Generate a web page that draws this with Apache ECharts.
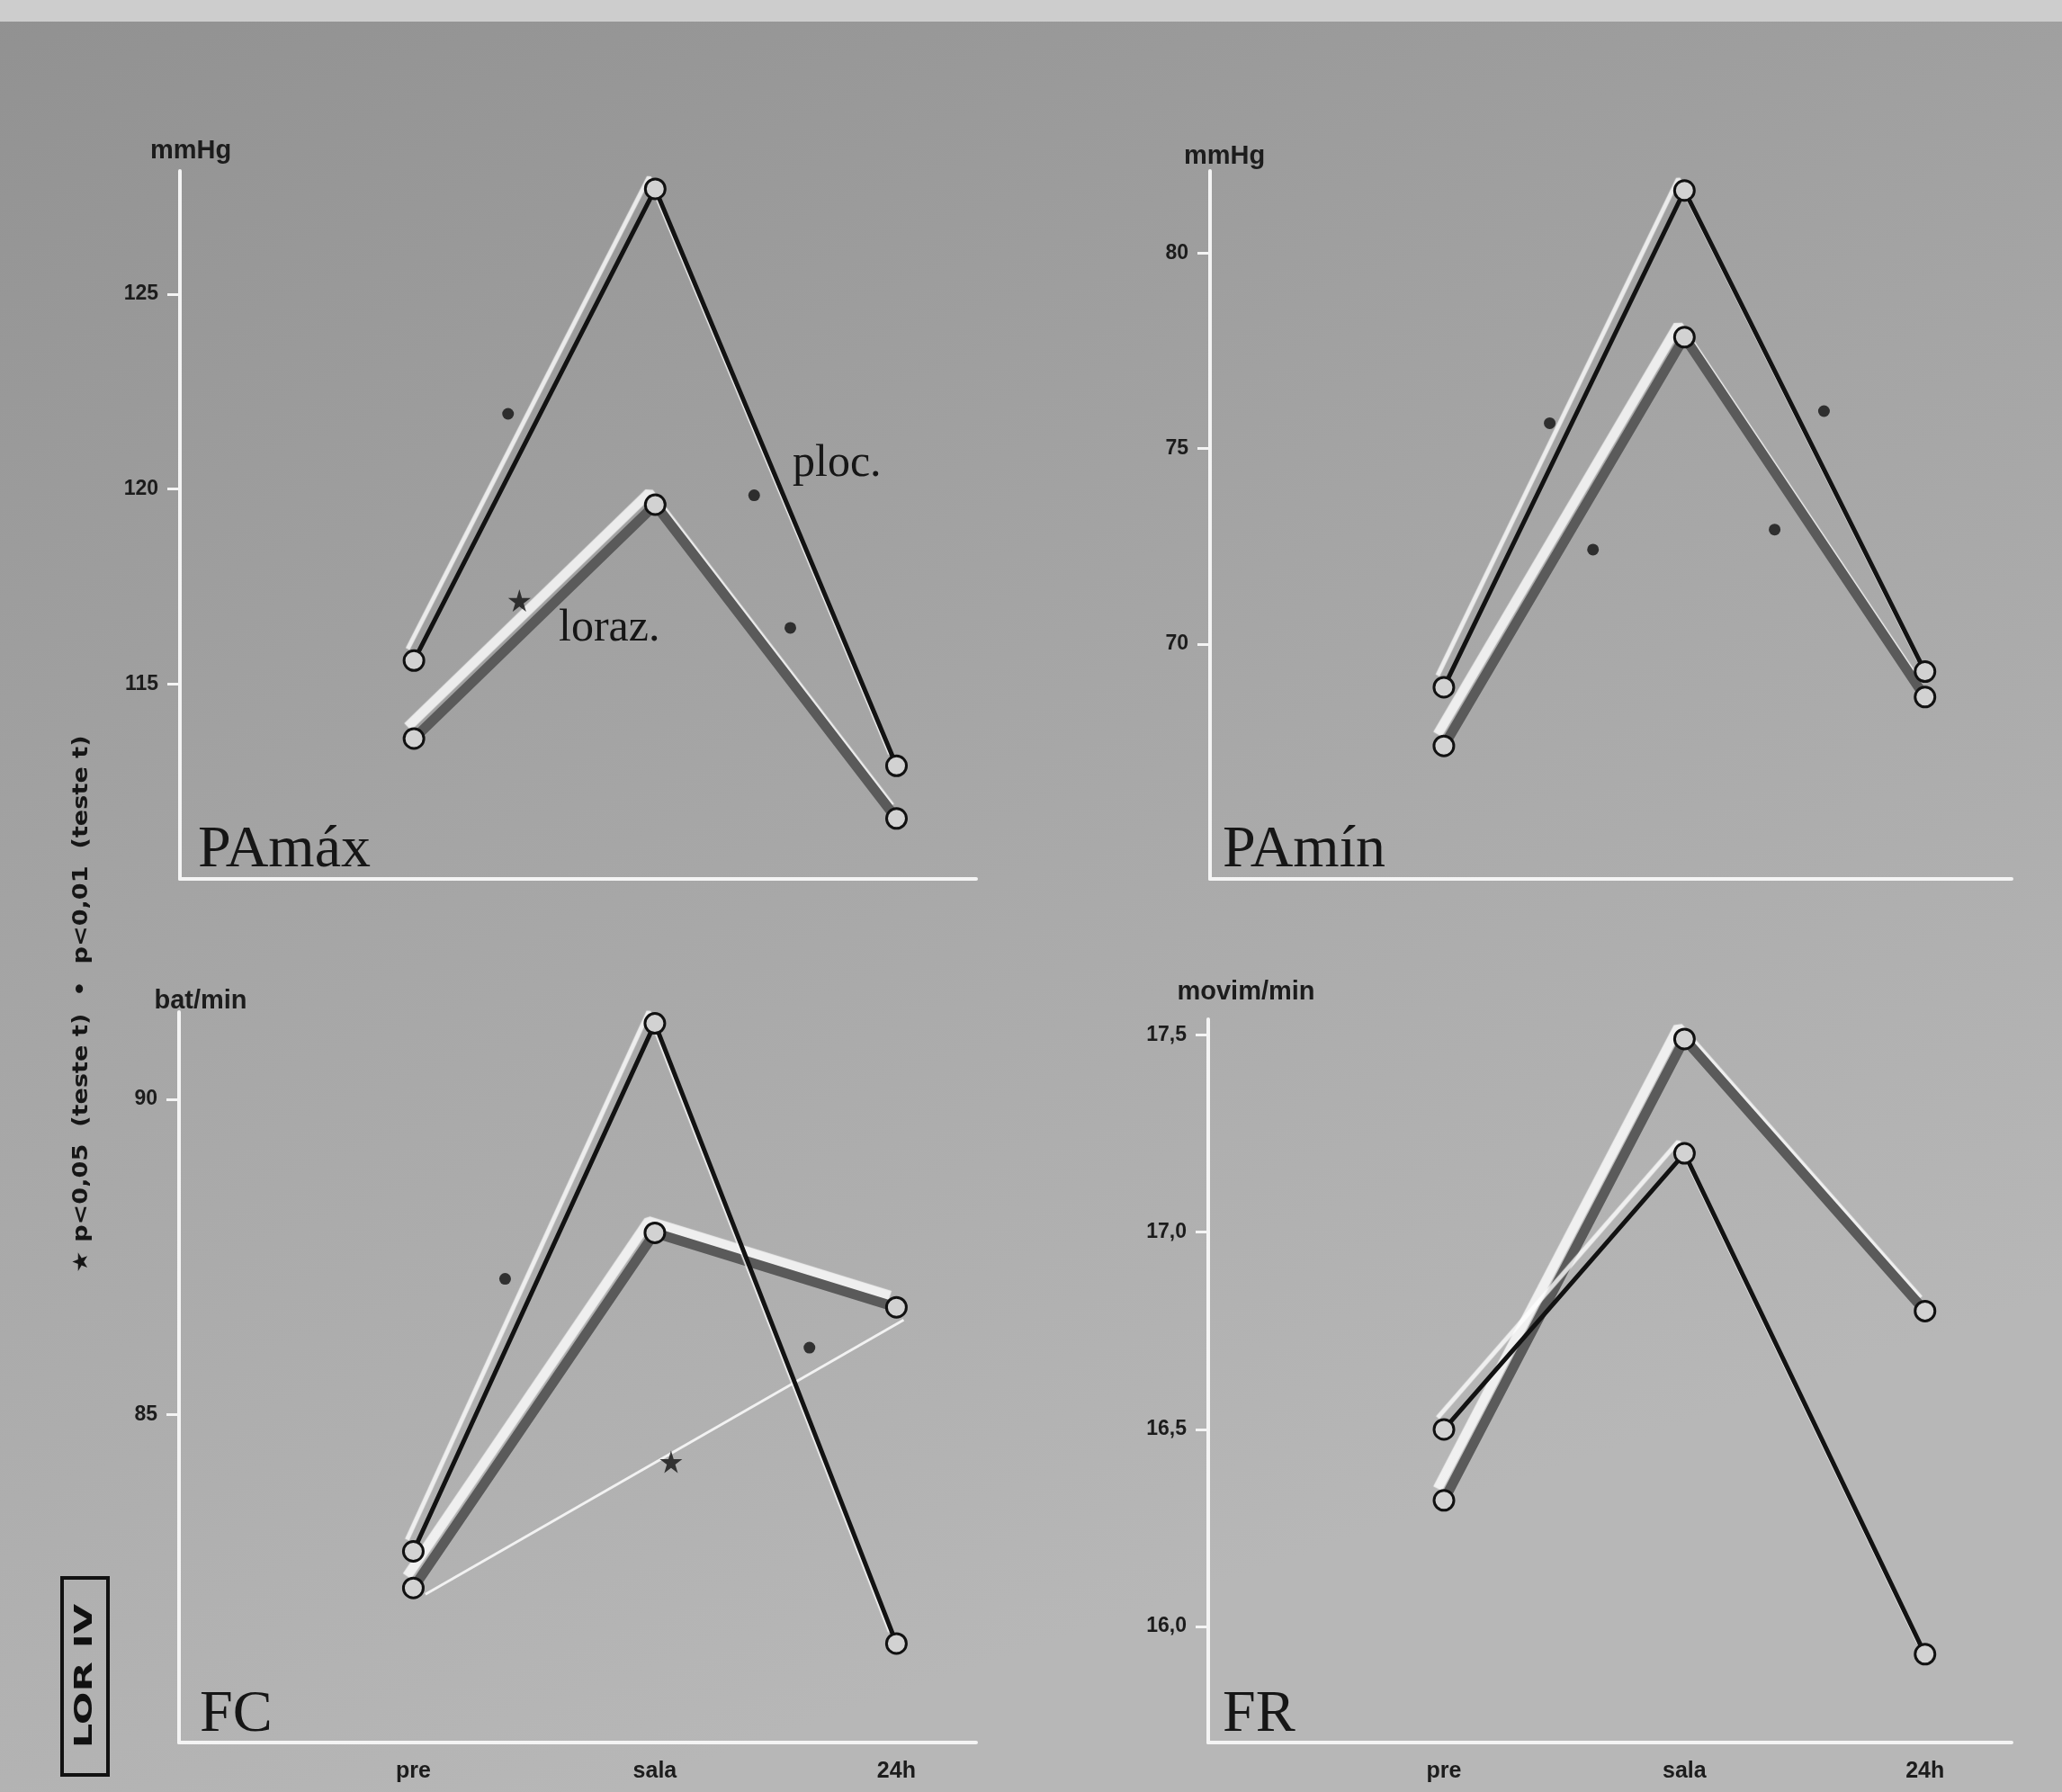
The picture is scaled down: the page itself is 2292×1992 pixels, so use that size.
<!DOCTYPE html>
<html>
<head>
<meta charset="utf-8">
<script src="https://cdn.jsdelivr.net/npm/echarts@6/dist/echarts.min.js"></script>
<style>
html,body{margin:0;padding:0;}
#chart{width:2292px;height:1992px;}
</style>
</head>
<body>
<div id="chart"></div>
<script>
// ---- data ----
const categories = ['pre', 'sala', '24h'];

const paMaxPlac  = [115.6, 127.7, 112.9];
const paMaxLoraz = [113.6, 119.6, 111.55];
const paMinPlac  = [68.9, 81.6, 69.3];
const paMinLoraz = [67.4, 77.85, 68.65];
const fcPlac     = [82.83, 91.2, 81.37];
const fcLoraz    = [82.25, 87.88, 86.7];
const frPlac     = [16.5, 17.2, 15.93];
const frLoraz    = [16.32, 17.49, 16.80];

const paMaxTicks = [115, 120, 125];
const paMinTicks = [70, 75, 80];
const fcTicks    = [85, 90];
const frTicks    = [16.0, 16.5, 17.0, 17.5];

// significance markers (x: position between categories, y: value)
const paMaxDots  = [[0.39, 121.93], [1.41, 119.84], [1.56, 116.44]];
const paMaxStars = [[0.437, 117.14]];
const paMinDots  = [[0.44, 75.65], [0.62, 72.42], [1.58, 75.96], [1.375, 72.93]];
const fcDots     = [[0.38, 87.15], [1.64, 86.06]];
const fcStars    = [[1.067, 84.25]];
const fcBracket  = [[0.05, 82.15], [2.03, 86.5]];

const panelNames = ['PAmáx', 'PAmín', 'FC', 'FR'];
const unitNames  = ['mmHg', 'mmHg', 'bat/min', 'movim/min'];

// ---- styling ----
const STAR = 'path://M50,0 L61,35 L98,35 L68,57 L79,91 L50,70 L21,91 L32,57 L2,35 L39,35 Z';
const halo = {shadowColor: 'rgba(255,255,255,0.8)', shadowBlur: 1, shadowOffsetX: -7, shadowOffsetY: -13};

function toPts(arr) { return arr.map((v, i) => [i, v]); }

function lineSeries(data, idx, kind) {
  const plac = kind === 'plac';
  return {
    type: 'line', xAxisIndex: idx, yAxisIndex: idx,
    data: toPts(data),
    symbol: 'circle', symbolSize: 22,
    itemStyle: {color: '#d2d2d2', borderColor: '#111', borderWidth: 3},
    lineStyle: Object.assign({color: plac ? '#121212' : '#5a5a5a', width: plac ? 5 : 11}, halo),
    z: plac ? 4 : 3,
    silent: true
  };
}
function markSeries(data, idx, star) {
  return {
    type: 'scatter', xAxisIndex: idx, yAxisIndex: idx, data: data,
    symbol: star ? STAR : 'circle', symbolSize: star ? 25 : 13,
    itemStyle: {color: '#111'}, z: 6, silent: true
  };
}

const grids = [
  {left: 200, top: 190, width: 885, height: 787},
  {left: 1345, top: 190, width: 891, height: 787},
  {left: 199, top: 1125, width: 886, height: 812},
  {left: 1343, top: 1133, width: 893, height: 804}
];
const xRanges = [[-0.97, 2.33], [-0.972, 2.36], [-0.97, 2.33], [-0.98, 2.36]];
const yRanges = [[110, 128.16], [64.0, 82.1], [79.8, 91.38], [15.706, 17.54]];
const yTickSets = [paMaxTicks, paMinTicks, fcTicks, frTicks];
const namePad = [24, 32, 48, 84];
const nameGaps = [22, 16, 12, 30];

const xAxes = grids.map((g, i) => ({
  type: 'value', gridIndex: i, min: xRanges[i][0], max: xRanges[i][1],
  axisLine: {show: true, onZero: false, lineStyle: {color: '#f4f4f4', width: 4}},
  axisTick: {show: false},
  splitLine: {show: false},
  axisLabel: {
    show: i >= 2, customValues: [0, 1, 2],
    formatter: v => categories[Math.round(v)] || '',
    color: '#1c1c1c', fontSize: 25, fontWeight: 'bold', fontFamily: 'Liberation Sans', margin: 20
  }
}));

const yAxes = grids.map((g, i) => ({
  type: 'value', gridIndex: i, min: yRanges[i][0], max: yRanges[i][1],
  name: unitNames[i], nameLocation: 'end', nameGap: nameGaps[i],
  nameTextStyle: {color: '#1c1c1c', fontSize: 29, fontWeight: 'bold', fontFamily: 'Liberation Sans',
                  align: 'center', verticalAlign: 'middle', padding: [0, 0, 0, namePad[i]]},
  axisLine: {show: true, onZero: false, lineStyle: {color: '#f4f4f4', width: 4}},
  axisTick: {show: true, customValues: yTickSets[i], length: 14, lineStyle: {color: '#f4f4f4', width: 3}},
  splitLine: {show: false},
  axisLabel: {
    customValues: yTickSets[i],
    formatter: v => i === 3 ? v.toFixed(1).replace('.', ',') : String(v),
    color: '#1c1c1c', fontSize: 23, fontWeight: 'bold', fontFamily: 'Liberation Sans', margin: 24
  }
}));

const series = [
  lineSeries(paMaxLoraz, 0, 'loraz'), lineSeries(paMaxPlac, 0, 'plac'),
  markSeries(paMaxDots, 0, false), markSeries(paMaxStars, 0, true),
  lineSeries(paMinLoraz, 1, 'loraz'), lineSeries(paMinPlac, 1, 'plac'),
  markSeries(paMinDots, 1, false),
  {type: 'line', xAxisIndex: 2, yAxisIndex: 2, data: fcBracket, symbol: 'none',
   lineStyle: {color: '#f2f2f2', width: 3}, z: 2, silent: true},
  lineSeries(fcLoraz, 2, 'loraz'), lineSeries(fcPlac, 2, 'plac'),
  markSeries(fcDots, 2, false), markSeries(fcStars, 2, true),
  lineSeries(frLoraz, 3, 'loraz'), lineSeries(frPlac, 3, 'plac')
];

const serif = 'Liberation Serif';
const labelPos = [[220, 913], [1359, 913], [222, 1874], [1359, 1874]];
const graphics = [
  {type: 'rect', left: 0, top: 0, shape: {width: 2292, height: 24}, style: {fill: '#cdcdcd'}, z: -1},
  ...panelNames.map((t, i) => ({
    type: 'text', x: labelPos[i][0], y: labelPos[i][1],
    style: {text: t, font: '66px ' + serif, fill: '#161616', verticalAlign: 'top'}
  })),
  {type: 'text', x: 881, y: 516, style: {text: 'ploc.', font: '50px ' + serif, fill: '#161616', verticalAlign: 'middle'}},
  {type: 'text', x: 621, y: 699, style: {text: 'loraz.', font: '50px ' + serif, fill: '#161616', verticalAlign: 'middle'}},
  {type: 'text', x: 91, y: 1116, rotation: Math.PI / 2, scaleX: 1.18,
   style: {text: '★ p<0,05  (teste t)  •  p<0,01  (teste t)', font: 'bold 23px "DejaVu Sans"', fill: '#161616',
           align: 'center', verticalAlign: 'middle'}},
  {type: 'rect', shape: {x: 69, y: 1754, width: 51, height: 219}, style: {fill: 'none', stroke: '#111', lineWidth: 4}},
  {type: 'text', x: 95, y: 1863, rotation: Math.PI / 2, scaleX: 1.6,
   style: {text: 'LOR IV', font: 'bold 27px "DejaVu Sans"', fill: '#111', align: 'center', verticalAlign: 'middle'}}
];

const chart = echarts.init(document.getElementById('chart'));
chart.setOption({
  animation: false,
  backgroundColor: {type: 'linear', x: 0, y: 0, x2: 0.3, y2: 1,
    colorStops: [{offset: 0, color: '#919191'}, {offset: 0.5, color: '#a5a5a5'}, {offset: 1, color: '#b7b7b7'}]},
  grid: grids,
  xAxis: xAxes,
  yAxis: yAxes,
  series: series,
  graphic: graphics
});
</script>
</body>
</html>
